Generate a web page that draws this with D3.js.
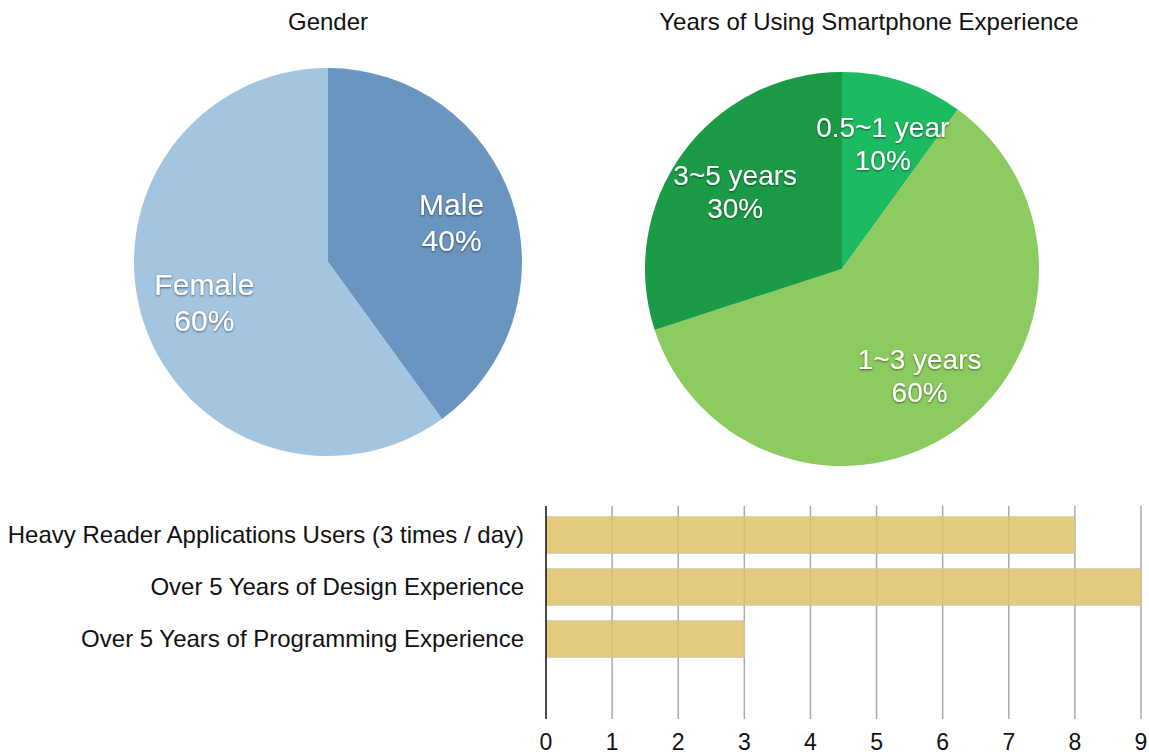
<!DOCTYPE html>
<html>
<head>
<meta charset="utf-8">
<script src="https://cdn.jsdelivr.net/npm/d3@7"></script>
<style>
  body { margin: 0; background: #fff; }
  svg { display: block; font-family: "Liberation Sans", Arial, sans-serif; }
</style>
</head>
<body>
<div id="chart"></div>
<script>
// Gender pie
const genderLabels = ["Male", "Female"];
const genderValues = [40, 60];
const genderColors = ["#6b95c1", "#a3c5e0"];

// Smartphone experience pie
const expLabels = ["0.5~1 year", "1~3 years", "3~5 years"];
const expValues = [10, 60, 30];
const expColors = ["#1dbb61", "#8bcb5f", "#1c9b47"];

// Bar chart
const barCategories = [
    "Heavy Reader Applications Users (3 times / day)",
    "Over 5 Years of Design Experience",
    "Over 5 Years of Programming Experience"
];
const barValues = [8, 9, 3];
const xTicks = [0, 1, 2, 3, 4, 5, 6, 7, 8, 9];

const width = 1149, height = 754;
const svg = d3.select("#chart").append("svg")
    .attr("width", width)
    .attr("height", height);

// soft shadow under the white slice labels
const filter = svg.append("defs").append("filter")
    .attr("id", "shadow")
    .attr("x", "-20%").attr("y", "-20%")
    .attr("width", "140%").attr("height", "140%");
filter.append("feDropShadow")
    .attr("dx", 0).attr("dy", 1)
    .attr("stdDeviation", 1.2)
    .attr("flood-color", "#000")
    .attr("flood-opacity", 0.55);

function drawPie(opts) {
    const data = opts.labels.map((l, i) => ({ label: l, value: opts.values[i], color: opts.colors[i] }));
    const pie = d3.pie().sort(null).value(d => d.value);
    const arc = d3.arc().innerRadius(0).outerRadius(opts.r);
    const labelArc = d3.arc().innerRadius(opts.r * 0.67).outerRadius(opts.r * 0.67);

    const g = svg.append("g").attr("transform", `translate(${opts.cx},${opts.cy})`);

    g.selectAll("path")
        .data(pie(data))
        .join("path")
        .attr("d", arc)
        .attr("fill", d => d.data.color);

    const lbl = g.selectAll(".slice-label")
        .data(pie(data))
        .join("text")
        .attr("class", "slice-label")
        .attr("transform", d => `translate(${labelArc.centroid(d)})`)
        .attr("text-anchor", "middle")
        .attr("fill", "#fff")
        .attr("filter", "url(#shadow)")
        .style("font-size", opts.fontSize + "px");
    lbl.append("tspan")
        .attr("x", 0)
        .attr("y", -opts.lineGap / 2 + opts.fontSize * 0.36)
        .text(d => d.data.label);
    lbl.append("tspan")
        .attr("x", 0)
        .attr("y", opts.lineGap / 2 + opts.fontSize * 0.36)
        .text(d => d.data.value + "%");

    svg.append("text")
        .attr("x", opts.titleX)
        .attr("y", 30)
        .attr("text-anchor", "middle")
        .attr("fill", "#111")
        .style("font-size", "24px")
        .text(opts.title);
}

drawPie({
    title: "Gender", titleX: 328,
    labels: genderLabels, values: genderValues, colors: genderColors,
    cx: 328, cy: 262, r: 194, fontSize: 30, lineGap: 36
});

drawPie({
    title: "Years of Using Smartphone Experience", titleX: 869,
    labels: expLabels, values: expValues, colors: expColors,
    cx: 842, cy: 269, r: 197, fontSize: 28, lineGap: 33
});

// Horizontal bar chart
const x = d3.scaleLinear().domain([0, 9]).range([546, 1141]);
const y = d3.scaleBand()
    .domain(barCategories)
    .range([509, 665])
    .paddingInner(0.3)
    .paddingOuter(0.15);
const gridTop = 506, gridBottom = 719;

// Grid
svg.append("g")
    .selectAll("line")
    .data(xTicks.slice(1))
    .join("line")
    .attr("x1", d => x(d)).attr("x2", d => x(d))
    .attr("y1", gridTop).attr("y2", gridBottom)
    .attr("stroke", "#aaa")
    .attr("stroke-width", 1.5);

// Bars
svg.append("g")
    .selectAll("rect")
    .data(barCategories)
    .join("rect")
    .attr("x", x(0))
    .attr("y", d => y(d))
    .attr("width", (d, i) => x(barValues[i]) - x(0))
    .attr("height", y.bandwidth())
    .attr("fill", "rgb(224,194,102)")
    .attr("fill-opacity", 0.85)
    .attr("stroke", "#cfc7a8")
    .attr("stroke-width", 1);

// Zero axis line
svg.append("line")
    .attr("x1", x(0)).attr("x2", x(0))
    .attr("y1", gridTop).attr("y2", gridBottom)
    .attr("stroke", "#111")
    .attr("stroke-width", 1.5);

// Tick labels
svg.append("g")
    .selectAll("text")
    .data(xTicks)
    .join("text")
    .attr("x", d => x(d))
    .attr("y", 750)
    .attr("text-anchor", "middle")
    .attr("fill", "#111")
    .style("font-size", "23px")
    .text(d => d);

// Category labels
svg.append("g")
    .selectAll("text")
    .data(barCategories)
    .join("text")
    .attr("x", 524)
    .attr("y", d => y(d) + y.bandwidth() / 2 + 8)
    .attr("text-anchor", "end")
    .attr("fill", "#111")
    .style("font-size", "24px")
    .text(d => d);
</script>
</body>
</html>
